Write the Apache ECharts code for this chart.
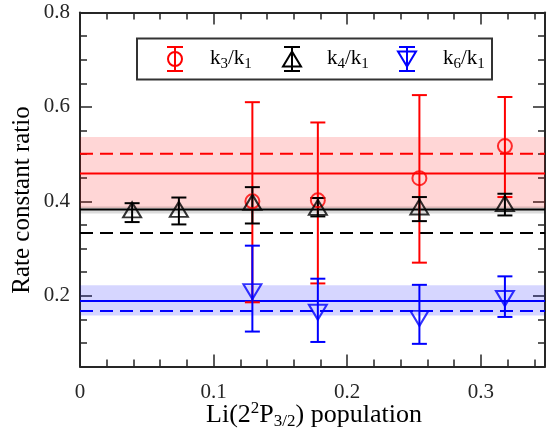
<!DOCTYPE html>
<html><head><meta charset="utf-8">
<script src="https://cdn.jsdelivr.net/npm/echarts@6/dist/echarts.min.js"></script>
<style>html,body{margin:0;padding:0;background:#fff}#c{width:548px;height:430px}</style>
</head><body><div id="c"></div>
<script>
// ---- data ----
const xK3 = [0.129, 0.178, 0.254, 0.318];
const k3 = [0.400, 0.402, 0.449, 0.517];
const k3Lo = [0.186, 0.226, 0.270, 0.409];
const k3Hi = [0.610, 0.567, 0.625, 0.621];

const xK4 = [0.039, 0.074, 0.129, 0.178, 0.254, 0.318];
const k4 = [0.382, 0.383, 0.398, 0.387, 0.388, 0.395];
const k4Lo = [0.356, 0.351, 0.353, 0.368, 0.358, 0.370];
const k4Hi = [0.396, 0.408, 0.430, 0.407, 0.409, 0.416];

const xK6 = [0.129, 0.178, 0.254, 0.318];
const k6 = [0.2085, 0.165, 0.152, 0.194];
const k6Lo = [0.124, 0.102, 0.098, 0.155];
const k6Hi = [0.306, 0.236, 0.223, 0.241];

// fitted means (solid), reference values (dashed), uncertainty bands: k3, k4, k6
const meanVals = [0.459, 0.3825, 0.189];
const refVals = [0.501, 0.333, 0.1675];
const bandLo = [0.386, 0.374, 0.158];
const bandHi = [0.536, 0.389, 0.222];

const xMin = 0, xMax = 0.348, yMin = 0.05, yMax = 0.8;
const xMajor = [0, 0.1, 0.2, 0.3];
const xMinor = [0.02,0.04,0.06,0.08,0.12,0.14,0.16,0.18,0.22,0.24,0.26,0.28,0.32,0.34];
const yMajor = [0.2, 0.4, 0.6, 0.8];
const yMinor = [0.1,0.15,0.25,0.3,0.35,0.45,0.5,0.55,0.65,0.7,0.75];

// ---- styling ----
const RED = '#ff0000', BLK = '#000000', BLU = '#0000ff';
const AX = '#262626';
const SERIF = "'Liberation Serif','Times New Roman',serif";
const colors = [RED, BLK, BLU];
const bandColors = ['rgba(255,0,0,0.16)', 'rgba(0,0,0,0.14)', 'rgba(0,0,255,0.16)'];

function mkAxis(kind, pos, ticks, len, labels, showLine) {
  const a = {
    type: 'value', position: pos,
    min: kind === 'x' ? xMin : yMin, max: kind === 'x' ? xMax : yMax,
    axisLine: {show: showLine, onZero: false, lineStyle: {color: AX, width: 2}},
    axisTick: {show: true, inside: true, length: len, customValues: ticks, lineStyle: {color: AX, width: 1.5}},
    axisLabel: labels ? {show: true, customValues: ticks, color: AX, fontSize: 21, fontFamily: SERIF,
      margin: kind === 'x' ? 15 : 10, formatter: v => String(+(+v).toFixed(2))} : {show: false},
    splitLine: {show: false}, minorTick: {show: false}
  };
  return a;
}

const series = [];
// bands
series.push({
  type: 'custom', z: 1, silent: true, clip: true,
  data: bandLo.map((lo, i) => [i, lo, bandHi[i]]),
  encode: {x: -1, y: [1, 2]},
  renderItem: (p, api) => {
    const i = api.value(0);
    const a = api.coord([xMin, api.value(2)]);
    const b = api.coord([xMax, api.value(1)]);
    return {type: 'rect', shape: {x: a[0], y: a[1], width: b[0] - a[0], height: b[1] - a[1]},
      style: {fill: bandColors[i]}};
  }
});
// horizontal lines
meanVals.forEach((v, i) => series.push({
  type: 'line', z: 2, silent: true, showSymbol: false, animation: false,
  data: [[xMin, v], [xMax, v]], lineStyle: {color: colors[i], width: 2, type: 'solid'}
}));
refVals.forEach((v, i) => series.push({
  type: 'line', z: 2, silent: true, showSymbol: false, animation: false,
  data: [[xMin, v], [xMax, v]], lineStyle: {color: colors[i], width: 2, type: [13, 7]}
}));

function errSeries(xs, lo, hi, color) {
  return {
    type: 'custom', z: 3, silent: true,
    data: xs.map((x, i) => [x, lo[i], hi[i]]),
    encode: {x: 0, y: [1, 2]},
    renderItem: (p, api) => {
      const x = api.value(0);
      const a = api.coord([x, api.value(1)]);
      const b = api.coord([x, api.value(2)]);
      const w = 7.5, st = {stroke: color, lineWidth: 2};
      return {type: 'group', children: [
        {type: 'line', shape: {x1: a[0], y1: a[1], x2: b[0], y2: b[1]}, style: st},
        {type: 'line', shape: {x1: a[0] - w, y1: a[1], x2: a[0] + w, y2: a[1]}, style: st},
        {type: 'line', shape: {x1: b[0] - w, y1: b[1], x2: b[0] + w, y2: b[1]}, style: st}
      ]};
    }
  };
}
function markSeries(xs, ys, color, symbol, size, rot) {
  return {
    type: 'scatter', z: 3, silent: true, symbol: symbol, symbolSize: size, symbolRotate: rot,
    data: xs.map((x, i) => [x, ys[i]]),
    itemStyle: {color: 'rgba(0,0,0,0)', borderColor: color, borderWidth: 2}
  };
}
series.push(errSeries(xK3, k3Lo, k3Hi, RED));
series.push(markSeries(xK3, k3, RED, 'circle', 14, 0));
series.push(errSeries(xK4, k4Lo, k4Hi, BLK));
series.push(markSeries(xK4, k4, BLK, 'triangle', [18, 15], 0));
series.push(errSeries(xK6, k6Lo, k6Hi, BLU));
series.push(markSeries(xK6, k6, BLU, 'triangle', [18, 15], 180));

// legend graphic
const subRich = {
  n: {fontSize: 21, fontFamily: SERIF, color: '#000'},
  s: {fontSize: 15, fontFamily: SERIF, color: '#000', padding: [13, 0, 0, 0]}
};
function legIcon(cx, cy, color, kind) {
  const st = {stroke: color, lineWidth: 2, fill: null};
  const ch = [
    {type: 'line', shape: {x1: cx, y1: cy - 12, x2: cx, y2: cy + 12}, style: st},
    {type: 'line', shape: {x1: cx - 8, y1: cy - 12, x2: cx + 8, y2: cy - 12}, style: st},
    {type: 'line', shape: {x1: cx - 8, y1: cy + 12, x2: cx + 8, y2: cy + 12}, style: st}
  ];
  if (kind === 'o') ch.push({type: 'circle', shape: {cx: cx, cy: cy, r: 7}, style: st});
  else if (kind === 'up') ch.push({type: 'polygon', shape: {points: [[cx, cy - 7.5], [cx - 9, cy + 7.5], [cx + 9, cy + 7.5]]}, style: st});
  else ch.push({type: 'polygon', shape: {points: [[cx - 9, cy - 7.5], [cx + 9, cy - 7.5], [cx, cy + 7.5]]}, style: st});
  return ch;
}
const legY = 59;
const graphic = [
  {type: 'rect', z: 100, shape: {x: 137, y: 38.5, width: 355, height: 41}, style: {fill: '#fff', stroke: '#333', lineWidth: 2}},
  ...legIcon(175, legY, RED, 'o').map(e => Object.assign(e, {z: 101})),
  ...legIcon(292, legY, BLK, 'up').map(e => Object.assign(e, {z: 101})),
  ...legIcon(407, legY, BLU, 'down').map(e => Object.assign(e, {z: 101})),
  {type: 'text', z: 101, x: 210, y: legY - 1, style: {text: '{n|k}{s|3}{n|/k}{s|1}', rich: subRich, verticalAlign: 'middle', align: 'left'}},
  {type: 'text', z: 101, x: 327, y: legY - 1, style: {text: '{n|k}{s|4}{n|/k}{s|1}', rich: subRich, verticalAlign: 'middle', align: 'left'}},
  {type: 'text', z: 101, x: 443, y: legY - 1, style: {text: '{n|k}{s|6}{n|/k}{s|1}', rich: subRich, verticalAlign: 'middle', align: 'left'}},
  // axis titles
  {type: 'text', z: 101, x: 22, y: 200, rotation: Math.PI / 2,
    style: {text: 'Rate constant ratio', fontSize: 25, fontFamily: SERIF, fill: '#000', align: 'center', verticalAlign: 'middle'}},
  {type: 'text', z: 101, x: 314, y: 415,
    style: {text: '{t|Li(2}{u|2}{t|P}{s|3/2}{t|) population}', align: 'center', verticalAlign: 'middle',
      rich: {t: {fontSize: 26, fontFamily: SERIF, color: '#000'},
             u: {fontSize: 17, fontFamily: SERIF, color: '#000', padding: [0, 0, 13, 0]},
             s: {fontSize: 17, fontFamily: SERIF, color: '#000', padding: [13, 0, 0, 0]}}}}
];

const chart = echarts.init(document.getElementById('c'), null, {renderer: 'canvas'});
chart.setOption({
  animation: false,
  backgroundColor: '#fff',
  grid: {left: 80, right: 3, top: 12.5, bottom: 63.5, containLabel: false},
  xAxis: [
    mkAxis('x', 'bottom', xMajor, 12, true, true),
    mkAxis('x', 'bottom', xMinor, 7, false, false),
    mkAxis('x', 'top', xMajor, 12, false, true),
    mkAxis('x', 'top', xMinor, 7, false, false)
  ],
  yAxis: [
    mkAxis('y', 'left', yMajor, 12, true, true),
    mkAxis('y', 'left', yMinor, 7, false, false),
    mkAxis('y', 'right', yMajor, 12, false, true),
    mkAxis('y', 'right', yMinor, 7, false, false)
  ],
  series: series,
  graphic: graphic
});
</script>
</body></html>
